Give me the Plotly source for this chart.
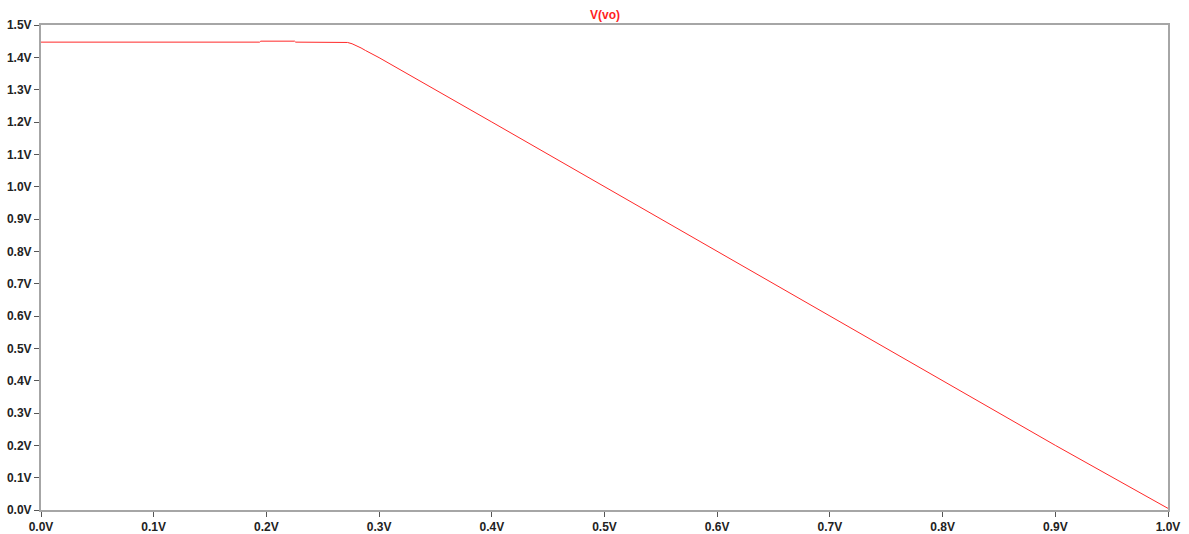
import plotly.graph_objects as go

# DC sweep of the input voltage and the resulting output node voltage
vin = [0.0, 0.100, 0.194, 0.195, 0.225, 0.226, 0.268, 0.272, 0.276, 0.280,
       0.284, 0.288, 0.292, 0.300, 0.400, 0.500, 0.600, 0.700, 0.800, 0.900, 1.000]
vo = [1.447, 1.447, 1.447, 1.450, 1.450, 1.447, 1.447, 1.446, 1.442, 1.436,
      1.429, 1.421, 1.414, 1.399, 1.200, 1.000, 0.800, 0.600, 0.400, 0.200, 0.005]

x_ticks = [i / 10 for i in range(11)]
x_tick_labels = [f"{v:.1f}V" for v in x_ticks]
y_ticks = [i / 10 for i in range(16)]
y_tick_labels = [f"{v:.1f}V" for v in y_ticks]

axis_grey = "#a6a6a6"
font_face = "Liberation Sans, Arial, sans-serif"
tick_font = dict(family=font_face, size=12, color="#222222", weight="bold")

fig = go.Figure()
fig.add_trace(go.Scatter(
    x=vin, y=vo, mode="lines",
    line=dict(color="rgb(255,40,40)", width=1),
    name="V(vo)", showlegend=False,
))

axis_common = dict(
    showgrid=False, zeroline=False, automargin=False,
    showline=True, linecolor=axis_grey, linewidth=2, mirror=True,
    ticks="outside", ticklen=5, tickwidth=1, tickcolor="#555555",
    tickfont=tick_font,
)

fig.update_xaxes(range=[0, 1.0], tickvals=x_ticks, ticktext=x_tick_labels, **axis_common)
fig.update_yaxes(range=[0, 1.5], tickvals=y_ticks, ticktext=y_tick_labels,
                 ticklabelstandoff=0, **axis_common)

fig.add_annotation(
    text="<b>V(vo)</b>", xref="paper", yref="paper", x=0.5, y=1.0,
    yanchor="bottom", xanchor="center", yshift=1, showarrow=False,
    font=dict(family=font_face, size=12, color="rgb(255,30,30)"),
)

fig.update_layout(
    width=1189, height=534,
    margin=dict(l=41, r=21, t=25, b=24),
    paper_bgcolor="white", plot_bgcolor="white",
    font=dict(family=font_face, size=12),
)

fig.write_html("out.html")
